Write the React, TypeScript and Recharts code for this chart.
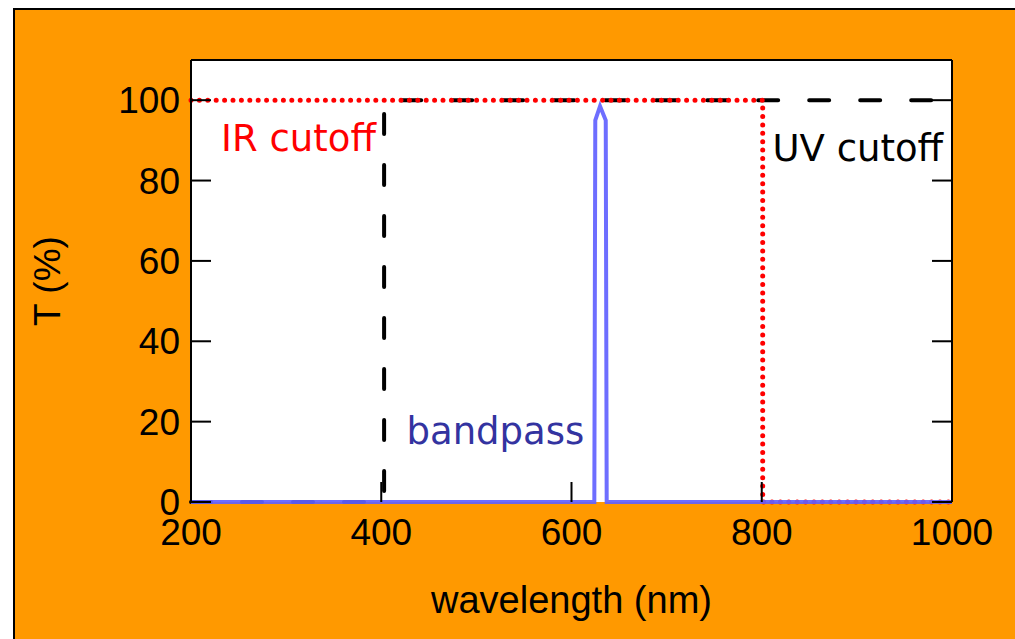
import {
  LineChart,
  Line,
  XAxis,
  YAxis,
  CartesianGrid,
  ReferenceLine,
  ReferenceDot,
} from "recharts";

// wavelength breakpoints (nm) and transmission (%) for each filter
const uvX = [200, 403, 403, 1000];
const uvT = [0, 0, 100, 100];

const irX = [200, 801, 801, 1000];
const irT = [100, 100, 0, 0];

const bpX = [200, 624, 625, 630, 636, 637, 1000];
const bpT = [0, 0, 95, 98.5, 95, 0, 0];

const xTicks = [200, 400, 600, 800, 1000];
const yTicks = [0, 20, 40, 60, 80, 100];

const toRows = (xs: number[], ts: number[]) => xs.map((x, i) => ({ x, t: ts[i] }));

const uvData = toRows(uvX, uvT);
const irData = toRows(irX, irT);
const bpData = toRows(bpX, bpT);

const ARIAL = "'Liberation Sans', Arial, sans-serif";
const VERDANA = "'DejaVu Sans', Verdana, sans-serif";

// right axis only shows its inward tick marks
const NoLabel = () => <g />;

export default function App() {
  return (
    <div
      style={{
        position: "fixed",
        left: 13,
        top: 8,
        width: 1010,
        height: 640,
        border: "2px solid #000",
        background: "#FF9900",
      }}
    >
      <LineChart
        width={1000}
        height={629}
        margin={{ top: 50, right: 3, left: 96, bottom: 37 }}
      >
        <CartesianGrid
          yAxisId="left"
          horizontal={false}
          vertical={false}
          fill="#FFFFFF"
          fillOpacity={1}
        />
        <XAxis
          dataKey="x"
          type="number"
          domain={[200, 1000]}
          ticks={xTicks}
          interval={0}
          height={100}
          tickSize={-20}
          tickMargin={37}
          axisLine={false}
          tickLine={{ stroke: "#000", strokeWidth: 2 }}
          tick={{ fill: "#000", fontSize: 37, fontFamily: ARIAL }}
          label={{
            value: "wavelength (nm)",
            position: "insideBottom",
            offset: -11,
            fill: "#000",
            fontSize: 38,
            fontFamily: ARIAL,
          }}
        />
        <YAxis
          yAxisId="left"
          type="number"
          domain={[0, 110]}
          ticks={yTicks}
          interval={0}
          width={80}
          tickSize={-20}
          tickMargin={31}
          axisLine={{ stroke: "#000", strokeWidth: 2 }}
          tickLine={{ stroke: "#000", strokeWidth: 2 }}
          tick={{ fill: "#000", fontSize: 37, fontFamily: ARIAL }}
          label={{
            value: "T (%)",
            angle: -90,
            position: "left",
            offset: 64,
            fill: "#000",
            fontSize: 37,
            fontFamily: ARIAL,
            style: { textAnchor: "middle" },
          }}
        />
        <YAxis
          yAxisId="right"
          orientation="right"
          type="number"
          domain={[0, 110]}
          ticks={yTicks}
          interval={0}
          width={60}
          tickSize={-20}
          tickMargin={0}
          tick={NoLabel}
          axisLine={{ stroke: "#000", strokeWidth: 2 }}
          tickLine={{ stroke: "#000", strokeWidth: 2 }}
        />
        <ReferenceLine yAxisId="left" y={110} stroke="#000" strokeWidth={2} />

        <Line
          yAxisId="left"
          data={uvData}
          dataKey="t"
          type="linear"
          stroke="#000"
          strokeWidth={4}
          strokeDasharray="20 31"
          strokeLinecap="round"
          dot={false}
          isAnimationActive={false}
        />
        <Line
          yAxisId="left"
          data={irData}
          dataKey="t"
          type="linear"
          stroke="#FF0000"
          strokeWidth={5}
          strokeDasharray="0 8.4"
          strokeLinecap="round"
          dot={false}
          isAnimationActive={false}
        />
        <Line
          yAxisId="right"
          data={bpData}
          dataKey="t"
          type="linear"
          stroke="#6262FF"
          strokeOpacity={0.92}
          strokeWidth={4}
          dot={false}
          isAnimationActive={false}
        />

        <ReferenceDot
          yAxisId="left"
          x={313}
          y={90.6}
          r={1}
          fill="none"
          stroke="none"
          label={{ value: "IR cutoff", position: "center", fill: "#FF0000", fontSize: 37, fontFamily: VERDANA }}
        />
        <ReferenceDot
          yAxisId="left"
          x={901}
          y={88.2}
          r={1}
          fill="none"
          stroke="none"
          label={{ value: "UV cutoff", position: "center", fill: "#000", fontSize: 37, fontFamily: VERDANA }}
        />
        <ReferenceDot
          yAxisId="left"
          x={520}
          y={17.8}
          r={1}
          fill="none"
          stroke="none"
          label={{ value: "bandpass", position: "center", fill: "#3333A0", fontSize: 37, fontFamily: VERDANA }}
        />
      </LineChart>
    </div>
  );
}
